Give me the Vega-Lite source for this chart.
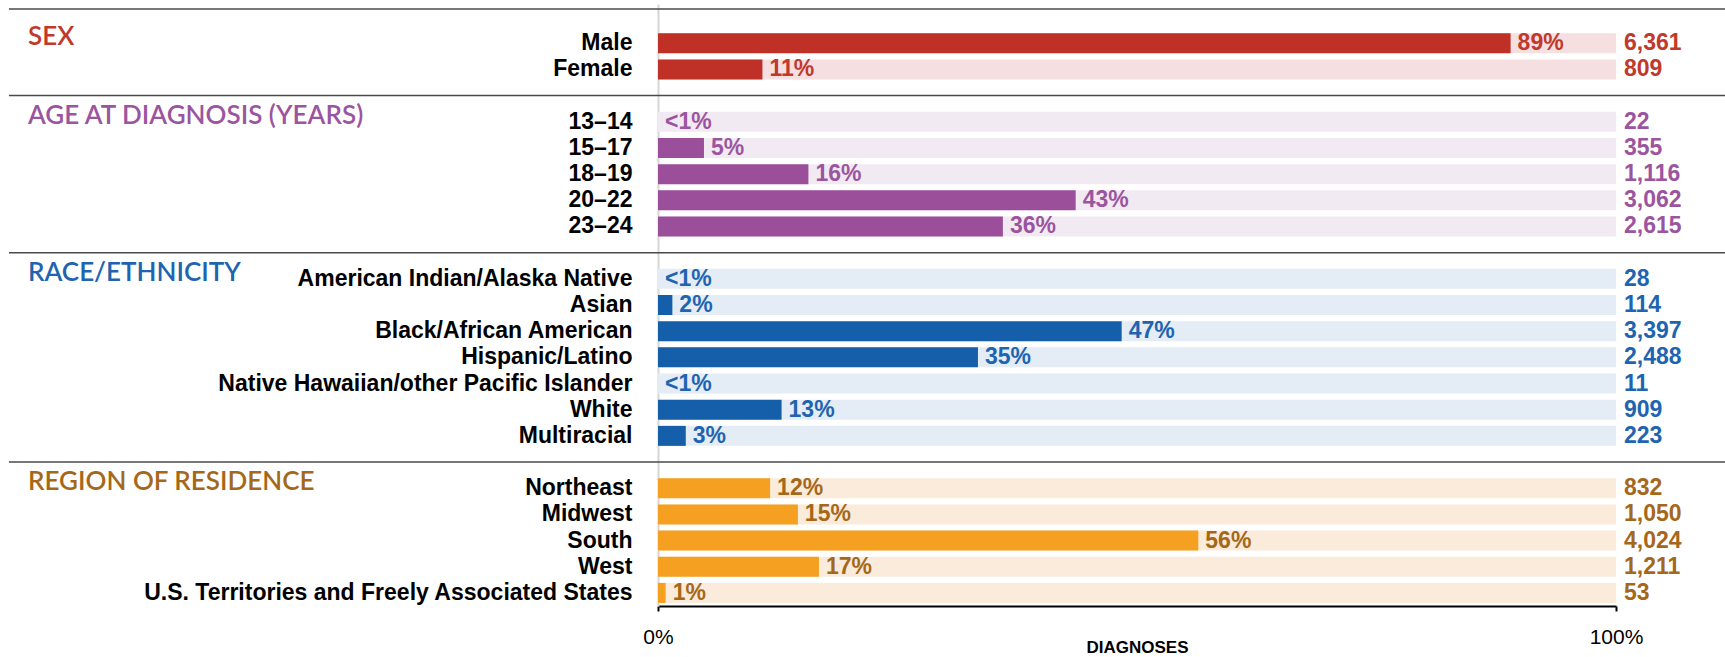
{
  "$schema": "https://vega.github.io/schema/vega-lite/v6.json",
  "width": 958,
  "height": 602,
  "autosize": {"type": "none"},
  "padding": {"left": 658, "top": 4, "right": 109, "bottom": 51},
  "background": "white",
  "config": {"view": {"stroke": null}, "font": "Liberation Sans"},
  "datasets": {
    "rows": [
      {"key": "Male", "section": "SEX", "pct": 89.0, "pctLabel": "89%", "count": 6361},
      {"key": "Female", "section": "SEX", "pct": 10.9, "pctLabel": "11%", "count": 809},
      {"key": "13–14", "section": "AGE", "pct": 0, "pctLabel": "<1%", "count": 22},
      {"key": "15–17", "section": "AGE", "pct": 4.8, "pctLabel": "5%", "count": 355},
      {"key": "18–19", "section": "AGE", "pct": 15.7, "pctLabel": "16%", "count": 1116},
      {"key": "20–22", "section": "AGE", "pct": 43.6, "pctLabel": "43%", "count": 3062},
      {"key": "23–24", "section": "AGE", "pct": 36.0, "pctLabel": "36%", "count": 2615},
      {"key": "American Indian/Alaska Native", "section": "RACE", "pct": 0, "pctLabel": "<1%", "count": 28},
      {"key": "Asian", "section": "RACE", "pct": 1.5, "pctLabel": "2%", "count": 114},
      {"key": "Black/African American", "section": "RACE", "pct": 48.4, "pctLabel": "47%", "count": 3397},
      {"key": "Hispanic/Latino", "section": "RACE", "pct": 33.4, "pctLabel": "35%", "count": 2488},
      {"key": "Native Hawaiian/other Pacific Islander", "section": "RACE", "pct": 0, "pctLabel": "<1%", "count": 11},
      {"key": "White", "section": "RACE", "pct": 12.9, "pctLabel": "13%", "count": 909},
      {"key": "Multiracial", "section": "RACE", "pct": 2.9, "pctLabel": "3%", "count": 223},
      {"key": "Northeast", "section": "REGION", "pct": 11.7, "pctLabel": "12%", "count": 832},
      {"key": "Midwest", "section": "REGION", "pct": 14.6, "pctLabel": "15%", "count": 1050},
      {"key": "South", "section": "REGION", "pct": 56.4, "pctLabel": "56%", "count": 4024},
      {"key": "West", "section": "REGION", "pct": 16.8, "pctLabel": "17%", "count": 1211},
      {"key": "U.S. Territories and Freely Associated States", "section": "REGION", "pct": 0.8, "pctLabel": "1%", "count": 53}
    ],
    "headers": [
      {"key": "Male", "section": "SEX", "title": "SEX"},
      {"key": "13–14", "section": "AGE", "title": "AGE AT DIAGNOSIS (YEARS)"},
      {"key": "American Indian/Alaska Native", "section": "RACE", "title": "RACE/ETHNICITY"},
      {"key": "Northeast", "section": "REGION", "title": "REGION OF RESIDENCE"}
    ],
    "dividers": [
      {"key": " "},
      {"key": "  "},
      {"key": "   "}
    ],
    "topline": [
      {"key": "    "}
    ]
  },
  "encoding": {
    "y": {
      "field": "key",
      "type": "nominal",
      "scale": {
        "domain": ["    ", "Male", "Female", " ", "13–14", "15–17", "18–19", "20–22", "23–24", "  ",
          "American Indian/Alaska Native", "Asian", "Black/African American", "Hispanic/Latino",
          "Native Hawaiian/other Pacific Islander", "White", "Multiracial", "   ",
          "Northeast", "Midwest", "South", "West", "U.S. Territories and Freely Associated States"],
        "paddingInner": 0.236,
        "paddingOuter": 0.118
      },
      "axis": {
        "title": null,
        "ticks": false,
        "domain": true,
        "domainColor": "#D6D6D6",
        "domainWidth": 2,
        "labelFont": "Liberation Sans",
        "labelFontSize": 23,
        "labelFontWeight": "bold",
        "labelColor": "#000000",
        "labelPadding": 26,
        "labelLimit": 0
      }
    }
  },
  "layer": [
    {
      "data": {"name": "rows"},
      "mark": {"type": "bar"},
      "encoding": {
        "x": {
          "datum": 100,
          "type": "quantitative",
          "scale": {"domain": [0, 100], "nice": false},
          "axis": {
            "values": [0, 100],
            "labelExpr": "datum.value + '%'",
            "grid": false,
            "domainColor": "#000000",
            "domainWidth": 2,
            "tickColor": "#000000",
            "tickWidth": 2,
            "tickSize": 5,
            "labelFont": "Liberation Sans",
            "labelFontSize": 21,
            "labelColor": "#000000",
            "labelBaseline": "middle",
            "labelPadding": 26,
            "labelFlush": false,
            "title": "DIAGNOSES",
            "titleFont": "Liberation Sans",
            "titleFontSize": 17,
            "titleFontWeight": "bold",
            "titleColor": "#000000",
            "titleY": 41,
            "titleBaseline": "middle"
          }
        },
        "color": {
          "field": "section",
          "type": "nominal",
          "scale": {"domain": ["SEX", "AGE", "RACE", "REGION"], "range": ["#F5DFE1", "#F2EAF2", "#E4ECF5", "#FAEBDB"]},
          "legend": null
        }
      }
    },
    {
      "data": {"name": "rows"},
      "mark": {"type": "bar"},
      "encoding": {
        "x": {"field": "pct", "type": "quantitative"},
        "color": {
          "field": "section",
          "type": "nominal",
          "scale": {"domain": ["SEX", "AGE", "RACE", "REGION"], "range": ["#BF3127", "#9B4F9B", "#155FAA", "#F5A020"]},
          "legend": null
        }
      }
    },
    {
      "data": {"name": "rows"},
      "mark": {"type": "text", "align": "left", "baseline": "middle", "dx": 7, "fontSize": 23, "fontWeight": "bold", "font": "Liberation Sans"},
      "encoding": {
        "x": {"field": "pct", "type": "quantitative"},
        "text": {"field": "pctLabel", "type": "nominal"},
        "color": {
          "field": "section",
          "type": "nominal",
          "scale": {"domain": ["SEX", "AGE", "RACE", "REGION"], "range": ["#C0392B", "#9B55A0", "#1E64B0", "#A5681A"]},
          "legend": null
        }
      }
    },
    {
      "data": {"name": "rows"},
      "mark": {"type": "text", "align": "left", "baseline": "middle", "dx": 8, "fontSize": 23, "fontWeight": "bold", "font": "Liberation Sans"},
      "encoding": {
        "x": {"datum": 100, "type": "quantitative"},
        "text": {"field": "count", "type": "quantitative", "format": ","},
        "color": {
          "field": "section",
          "type": "nominal",
          "scale": {"domain": ["SEX", "AGE", "RACE", "REGION"], "range": ["#C0392B", "#9B55A0", "#1E64B0", "#A5681A"]},
          "legend": null
        }
      }
    },
    {
      "data": {"name": "headers"},
      "mark": {"type": "text", "align": "left", "baseline": "middle", "dy": -6, "fontSize": 26, "fontWeight": 600, "font": "Lato"},
      "encoding": {
        "x": {"datum": -65.76, "type": "quantitative"},
        "text": {"field": "title", "type": "nominal"},
        "color": {
          "field": "section",
          "type": "nominal",
          "scale": {"domain": ["SEX", "AGE", "RACE", "REGION"], "range": ["#C0392B", "#9B55A0", "#1E64B0", "#A5681A"]},
          "legend": null
        }
      }
    },
    {
      "data": {"name": "dividers"},
      "mark": {"type": "rule", "color": "#4A4A4A", "strokeWidth": 1.5},
      "encoding": {
        "x": {"datum": -67.75, "type": "quantitative"},
        "x2": {"datum": 111.4},
        "y": {"field": "key", "type": "nominal", "bandPosition": 0.5}
      }
    },
    {
      "data": {"name": "topline"},
      "mark": {"type": "rule", "color": "#4A4A4A", "strokeWidth": 1.5},
      "encoding": {
        "x": {"datum": -67.75, "type": "quantitative"},
        "x2": {"datum": 111.4},
        "y": {"field": "key", "type": "nominal", "bandPosition": 0.1}
      }
    }
  ],
  "resolve": {"scale": {"color": "independent"}}
}
